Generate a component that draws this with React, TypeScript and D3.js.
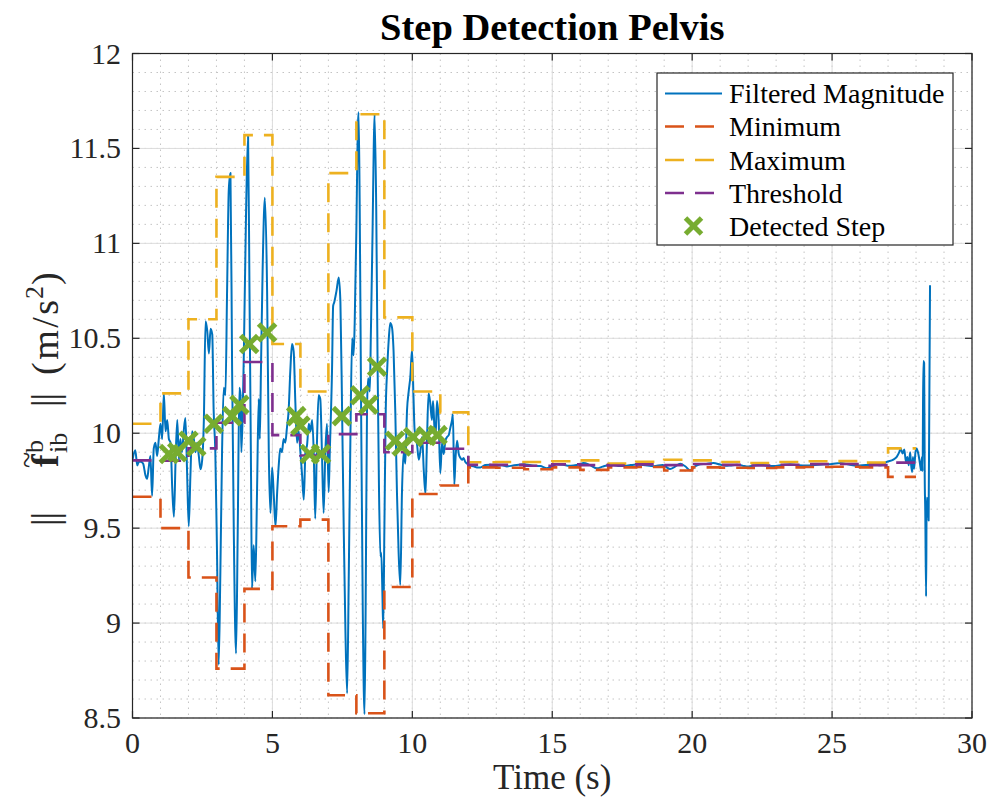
import React from "react";
import * as d3 from "d3";

// ---------- data ----------
const timeS = [
  0.0, 0.1, 0.17, 0.23, 0.29, 0.38, 0.46, 0.52, 0.58, 0.64, 0.7, 0.76, 0.82, 0.88, 0.94, 1.0, 1.06, 1.12, 1.18, 1.24,
  1.3, 1.36, 1.42, 1.48, 1.54, 1.6, 1.66, 1.71, 1.77, 1.83, 1.89, 1.95, 2.01, 2.07, 2.13, 2.19, 2.25, 2.31, 2.37, 2.43,
  2.49, 2.55, 2.61, 2.67, 2.73, 2.79, 2.85, 2.9, 2.96, 3.02, 3.08, 3.14, 3.2, 3.26, 3.32, 3.38, 3.44, 3.5,
  3.56, 3.62, 3.7, 3.76, 3.82, 3.86, 3.89, 3.94, 3.98, 4.06, 4.13, 4.18, 4.23, 4.27, 4.33, 4.39, 4.45, 4.51, 4.55, 4.59,
  4.65, 4.73, 4.81, 4.87, 4.93, 4.99, 5.05, 5.11, 5.17, 5.23, 5.28, 5.34, 5.4, 5.46, 5.52, 5.58, 5.64, 5.7, 5.76, 5.82,
  5.88, 5.94, 6.0, 6.06, 6.12, 6.18, 6.24, 6.3, 6.36, 6.42, 6.48, 6.53, 6.59, 6.65, 6.71,
  6.77, 6.83, 6.89, 6.95, 7.01, 7.05, 7.13, 7.17, 7.21, 7.29, 7.37, 7.43, 7.49, 7.55, 7.61, 7.67, 7.73, 7.79, 7.85, 7.9,
  7.94, 8.0, 8.05, 8.08, 8.12, 8.17, 8.23, 8.29, 8.33, 8.38, 8.42, 8.48, 8.52, 8.58, 8.62, 8.65, 8.71, 8.76, 8.81, 8.86,
  8.89, 8.93, 8.96, 9.0, 9.05, 9.1, 9.16, 9.21, 9.27, 9.33, 9.39, 9.45, 9.51, 9.57, 9.63, 9.69, 9.75, 9.81, 9.87, 9.93,
  9.99, 10.04, 10.08, 10.17, 10.23, 10.29, 10.35, 10.41, 10.47, 10.52, 10.58, 10.64, 10.7, 10.74, 10.79, 10.83, 10.88,
  10.94, 11.0, 11.06, 11.12, 11.18, 11.24, 11.3, 11.36, 11.42, 11.45, 11.5, 11.54, 11.6, 11.66, 11.72, 11.78, 11.83,
  11.89, 11.95, 12.07, 12.19, 12.31, 12.43, 12.6, 12.79, 13.0, 13.2, 13.38, 13.6, 13.8, 13.98, 14.2, 14.4, 14.57, 14.81,
  15.0, 15.17, 15.4, 15.6, 15.76, 15.95, 16.12, 16.35, 16.6, 16.8, 16.95, 17.2, 17.4, 17.55, 17.8, 18.0, 18.14, 18.4,
  18.6, 18.74, 18.95, 19.21, 19.4, 19.57, 19.75, 19.93, 20.1, 20.29, 20.5, 20.76, 21.0, 21.2, 21.36, 21.6, 21.8, 21.95,
  22.2, 22.43, 22.7, 22.9, 23.2, 23.5, 23.8, 24.1, 24.4, 24.7, 25.0, 25.29, 25.6, 25.88, 26.2, 26.48, 26.75, 26.95,
  27.19, 27.31, 27.4, 27.45, 27.52, 27.58, 27.64, 27.69, 27.74, 27.79, 27.82, 27.86, 27.89, 27.93, 27.98, 28.02, 28.08,
  28.14, 28.18, 28.21, 28.235, 28.26, 28.29, 28.31, 28.33, 28.36, 28.38, 28.42, 28.45, 28.5,
];
const magnitude = [
  9.86, 9.91, 9.83, 9.85, 9.85, 9.84, 9.78, 9.76, 9.82, 9.88, 9.67, 9.92, 9.95, 9.88, 9.97, 10.05, 9.97, 10.21, 10.01, 10.07,
  9.97, 9.95, 9.71, 9.56, 9.86, 10.07, 9.86, 9.97, 9.9, 10.01, 10.08, 9.8, 9.51, 9.78, 10.01, 9.97, 9.9, 9.95, 9.88, 9.81,
  9.86, 10.07, 10.59, 10.54, 10.42, 10.55, 10.52, 10.12, 9.9, 9.37, 8.78, 9.27, 9.9, 10.24, 10.2, 10.75, 11.28, 11.37,
  10.33, 9.48, 8.84, 9.48, 10.24, 10.2, 9.9, 10.12, 10.43, 11.18, 11.57, 10.75, 9.9, 9.18, 9.41, 9.22, 9.69, 10.18, 9.97, 10.33,
  10.86, 11.24, 10.75, 9.9, 9.58, 9.82, 9.67, 9.51, 9.69, 9.84, 9.92, 9.9, 9.97, 9.95, 10.03, 10.12, 10.33, 10.47, 10.43, 10.16,
  9.95, 10.01, 9.9, 9.78, 9.65, 9.9, 9.94, 10.05, 10.01, 10.07, 9.88, 9.55, 9.94, 10.2, 10.18,
  9.9, 9.58, 9.9, 10.05, 9.69, 9.9, 10.33, 10.67, 10.69, 10.75, 10.82, 10.69, 10.12, 9.48, 8.95, 8.63, 9.27, 10.01, 10.5, 10.41,
  10.58, 11.07, 11.6, 11.69, 11.18, 10.12, 9.05, 8.52, 9.05, 10.12, 10.29, 10.22, 10.54, 11.07, 11.5, 11.68, 11.18, 10.33, 9.69, 9.35,
  9.37, 9.16, 8.97, 9.48, 10.12, 10.33, 10.5, 10.58, 10.56, 10.43, 10.12, 9.69, 9.37, 9.2, 9.69, 9.9, 9.84, 10.12, 10.22, 10.3,
  10.44, 10.2, 10.02, 9.94, 9.86, 9.91, 9.98, 9.8, 9.68, 9.94, 10.21, 10.16, 10.07, 10.17, 10.03, 9.98, 10.17,
  10.07, 9.79, 9.95, 9.89, 9.96, 9.98, 9.99, 10.03, 10.07, 10.1, 9.73, 9.86, 9.96, 9.89, 9.87, 9.86, 9.87,
  9.85, 9.84, 9.83, 9.826, 9.82, 9.82, 9.832, 9.834, 9.829, 9.831, 9.825, 9.83, 9.834, 9.836, 9.832, 9.828, 9.827, 9.816,
  9.826, 9.837, 9.834, 9.828, 9.83, 9.835, 9.843, 9.832, 9.815, 9.824, 9.83, 9.833, 9.827, 9.827, 9.832, 9.835, 9.834, 9.83,
  9.826, 9.829, 9.832, 9.811, 9.825, 9.839, 9.826, 9.804, 9.825, 9.836, 9.838, 9.843, 9.835, 9.828, 9.83, 9.834, 9.829, 9.825,
  9.83, 9.834, 9.829, 9.827, 9.832, 9.837, 9.831, 9.83, 9.833, 9.836, 9.838, 9.843, 9.835, 9.829, 9.832, 9.834, 9.831, 9.849,
  9.861, 9.875, 9.9, 9.919, 9.893, 9.914, 9.849, 9.875, 9.831, 9.9, 9.84, 9.796, 9.875, 9.813, 9.9, 9.919, 9.893,
  9.84, 9.804, 9.875, 9.8, 10.38, 10.37, 9.78, 9.59, 9.14, 9.66, 9.64, 9.54, 10.78,
];

const windowEdges = [0, 1, 2, 3, 4, 5, 6, 7, 8, 9, 10, 11, 12, 13, 14, 15, 16, 17, 18, 19, 20, 21, 22, 23, 24, 25, 26, 27, 28];
const minimumVals = [
  9.665, 9.5, 9.24, 8.76, 9.18, 9.51, 9.545, 8.62, 8.525, 9.19, 9.68, 9.725, 9.82, 9.818,
  9.81, 9.82, 9.807, 9.82, 9.822, 9.804, 9.82, 9.818, 9.817, 9.82, 9.822, 9.823, 9.82, 9.77,
];
const maximumVals = [
  10.05, 10.21, 10.6, 11.35, 11.57, 10.47, 10.22, 11.37, 11.68, 10.61, 10.22, 10.11, 9.847, 9.848,
  9.848, 9.852, 9.857, 9.84, 9.85, 9.86, 9.857, 9.848, 9.843, 9.848, 9.852, 9.853, 9.845, 9.92,
];
const thresholdVals = [
  9.857, 9.855, 9.92, 10.055, 10.375, 9.99, 9.883, 9.995, 10.1, 9.9, 9.95, 9.918, 9.833, 9.833,
  9.829, 9.836, 9.832, 9.83, 9.836, 9.832, 9.838, 9.833, 9.83, 9.834, 9.837, 9.838, 9.832, 9.845,
];

const stepTimes = [1.3, 1.6, 2.0, 2.28, 2.9, 3.56, 3.82, 4.17, 4.81, 5.85, 6.0, 6.33, 6.74, 7.48, 8.13, 8.43, 8.74, 9.38, 9.62, 10.03, 10.5, 10.9];
const stepVals = [9.89, 9.9, 9.96, 9.93, 10.05, 10.09, 10.15, 10.47, 10.53, 10.09, 10.04, 9.89, 9.89, 10.09, 10.2, 10.15, 10.35, 9.96, 9.93, 9.98, 9.985, 9.99];

const xTicks = [0, 5, 10, 15, 20, 25, 30];
const yTicks = [8.5, 9, 9.5, 10, 10.5, 11, 11.5, 12];
const legendLabels = ["Filtered Magnitude", "Minimum", "Maximum", "Threshold", "Detected Step"];
const seriesColors = ["#0072BD", "#D95319", "#EDB120", "#7E2F8E", "#77AC30"];

// ---------- layout ----------
const W = 992;
const H = 804;
const L = 132.5, R = 972, T = 53.5, B = 718;
const FONT = "'Liberation Serif', 'Times New Roman', serif";
const DASH = "19,11";

export default function App() {
  const x = d3.scaleLinear().domain([0, 30]).range([L, R]);
  const y = d3.scaleLinear().domain([8.5, 12]).range([B, T]);

  const blueLine = d3
    .line<number>()
    .x((_, i) => x(timeS[i]))
    .y((v) => y(v))
    .curve(d3.curveMonotoneX)(magnitude) as string;

  const stepPath = (vals: number[]) =>
    d3
      .line<number>()
      .x((_, i) => x(windowEdges[i]))
      .y((v) => y(v))
      .curve(d3.curveStepAfter)([...vals, vals[vals.length - 1]]) as string;

  const xMinor = d3.range(0, 30.001, 1);
  const yMinor = d3.range(8.5, 12.0001, 0.1);

  const legX = 657, legY = 73, legW = 296, legH = 172;
  const rowY = [93.5, 126.5, 160, 193, 226];

  const xMark = (cx: number, cy: number, key: string | number, s = 8.5) => (
    <g key={key} stroke={seriesColors[4]} strokeWidth={5} strokeLinecap="butt">
      <line x1={cx - s} y1={cy - s} x2={cx + s} y2={cy + s} />
      <line x1={cx - s} y1={cy + s} x2={cx + s} y2={cy - s} />
    </g>
  );

  return (
    <svg
      width={W}
      height={H}
      style={{ position: "absolute", left: 0, top: 0, background: "#fff", display: "block", fontFamily: FONT }}
      fontFamily={FONT}
    >
      <defs>
        <clipPath id="plotClip">
          <rect x={L} y={T} width={R - L} height={B - T} />
        </clipPath>
      </defs>
      <rect x={0} y={0} width={W} height={H} fill="#fff" />

      {/* minor grid */}
      <g stroke="#c4c4c4" strokeWidth={1} strokeDasharray="1.5,4.5">
        {xMinor.map((v) => (
          <line key={"xm" + v} x1={x(v)} x2={x(v)} y1={T} y2={B} />
        ))}
        {yMinor.map((v) => (
          <line key={"ym" + v.toFixed(2)} x1={L} x2={R} y1={y(v)} y2={y(v)} />
        ))}
      </g>
      {/* major grid */}
      <g stroke="#dcdcdc" strokeWidth={1}>
        {xTicks.map((v) => (
          <line key={"xg" + v} x1={x(v)} x2={x(v)} y1={T} y2={B} />
        ))}
        {yTicks.map((v) => (
          <line key={"yg" + v} x1={L} x2={R} y1={y(v)} y2={y(v)} />
        ))}
      </g>

      {/* data */}
      <g clipPath="url(#plotClip)" fill="none">
        <path d={blueLine} stroke={seriesColors[0]} strokeWidth={2} strokeLinejoin="round" />
        <path d={stepPath(minimumVals)} stroke={seriesColors[1]} strokeWidth={2.6} strokeDasharray={DASH} />
        <path d={stepPath(maximumVals)} stroke={seriesColors[2]} strokeWidth={2.6} strokeDasharray={DASH} />
        <path d={stepPath(thresholdVals)} stroke={seriesColors[3]} strokeWidth={2.6} strokeDasharray={DASH} />
        {stepTimes.map((t, i) => xMark(x(t), y(stepVals[i]), "m" + i))}
      </g>

      {/* axes box & ticks */}
      <rect x={L} y={T} width={R - L} height={B - T} fill="none" stroke="#262626" strokeWidth={1.2} />
      <g stroke="#262626" strokeWidth={1.2}>
        {xTicks.map((v) => (
          <g key={"xt" + v}>
            <line x1={x(v)} x2={x(v)} y1={B} y2={B - 7} />
            <line x1={x(v)} x2={x(v)} y1={T} y2={T + 7} />
          </g>
        ))}
        {yTicks.map((v) => (
          <g key={"yt" + v}>
            <line x1={L} x2={L + 7} y1={y(v)} y2={y(v)} />
            <line x1={R} x2={R - 7} y1={y(v)} y2={y(v)} />
          </g>
        ))}
      </g>
      <g fontSize={30} fill="#262626">
        {xTicks.map((v) => (
          <text key={"xl" + v} x={x(v)} y={753} textAnchor="middle">
            {v}
          </text>
        ))}
        {yTicks.map((v) => (
          <text key={"yl" + v} x={121} y={y(v) + 10} textAnchor="end">
            {v}
          </text>
        ))}
      </g>

      {/* title and labels */}
      <text x={(L + R) / 2} y={40} textAnchor="middle" fontSize={38.5} fontWeight="bold" fill="#000">
        Step Detection Pelvis
      </text>
      <text x={(L + R) / 2} y={789} textAnchor="middle" fontSize={35} fill="#262626">
        Time (s)
      </text>
      <g transform="translate(58, 395) rotate(-90)" fill="#262626" fontSize={38}>
        <text x={-131} letterSpacing={-1}>||</text>
        <text x={-72} fontWeight="bold">f</text>
        <text x={-73} y={-21} fontSize={30}>~</text>
        <text x={-58} y={-15} fontSize={26}>b</text>
        <text x={-58} y={9} fontSize={26}>ib</text>
        <text x={-12} letterSpacing={-1}>||</text>
        <text x={20} letterSpacing={2.5}>(m/s</text>
        <text x={96} y={-15} fontSize={26}>2</text>
        <text x={110}>)</text>
      </g>

      {/* legend */}
      <rect x={legX} y={legY} width={legW} height={legH} fill="#fff" stroke="#262626" strokeWidth={1.2} />
      {legendLabels.map((lab, i) => (
        <g key={"lg" + i}>
          {i < 4 ? (
            <line
              x1={665}
              x2={722}
              y1={rowY[i]}
              y2={rowY[i]}
              stroke={seriesColors[i]}
              strokeWidth={i === 0 ? 2 : 2.6}
              strokeDasharray={i === 0 ? undefined : DASH}
            />
          ) : (
            xMark(693.5, rowY[i], "lgx", 8)
          )}
          <text x={729} y={rowY[i] + 9.5} fontSize={28} fill="#000">
            {lab}
          </text>
        </g>
      ))}
    </svg>
  );
}
